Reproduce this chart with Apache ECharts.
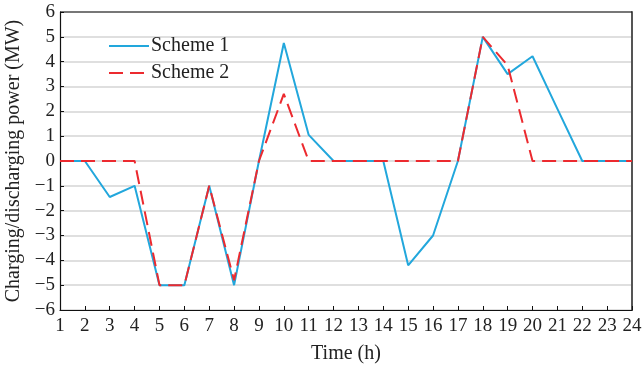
<!DOCTYPE html>
<html>
<head>
<meta charset="utf-8">
<script src="https://cdn.jsdelivr.net/npm/echarts@6/dist/echarts.min.js"></script>
<style>
  html, body { margin: 0; padding: 0; background: #fff; }
  #chart { width: 642px; height: 366px; }
</style>
</head>
<body>
<div id="chart"></div>
<script>
// Hours of the day
const hours = [1, 2, 3, 4, 5, 6, 7, 8, 9, 10, 11, 12, 13, 14, 15, 16, 17, 18, 19, 20, 21, 22, 23, 24];
// Charging/discharging power (MW) for each scheme
const scheme1 = [0, 0, -1.45, -1, -5, -5, -1, -5, 0, 4.75, 1.05, 0, 0, 0, -4.2, -3, 0, 5, 3.5, 4.22, 2.1, 0, 0, 0];
const scheme2 = [0, 0, 0, 0, -5, -5, -1, -4.8, 0, 2.7, 0, 0, 0, 0, 0, 0, 0, 5, 3.85, 0, 0, 0, 0, 0];
const seriesNames = ['Scheme 1', 'Scheme 2'];

const serif = 'Liberation Serif';
const chart = echarts.init(document.getElementById('chart'));

chart.setOption({
  animation: false,
  grid: { left: 60, top: 12, right: 10, bottom: 56, containLabel: false, outerBoundsMode: 'none' },
  legend: {
    orient: 'vertical',
    left: 103,
    top: 31,
    itemWidth: 40,
    itemHeight: 10,
    itemGap: 7,
    itemStyle: { opacity: 0 },
    textStyle: { fontFamily: serif, fontSize: 20, color: '#222', padding: [0, 0, 0, -3] },
    data: seriesNames
  },
  xAxis: {
    type: 'value',
    min: 1,
    max: 24,
    interval: 1,
    name: 'Time (h)',
    nameLocation: 'middle',
    nameGap: 34,
    nameTextStyle: { fontFamily: serif, fontSize: 20, color: '#222' },
    axisLine: { onZero: false, lineStyle: { color: '#111', width: 1.2 } },
    axisTick: { inside: true, length: 4, lineStyle: { color: '#111' } },
    axisLabel: { fontFamily: serif, fontSize: 19, color: '#222', margin: 7 },
    splitLine: { show: false }
  },
  yAxis: [{
    type: 'value',
    min: -6,
    max: 6,
    interval: 1,
    name: 'Charging/discharging power (MW)',
    nameLocation: 'middle',
    nameGap: 30,
    nameTextStyle: { fontFamily: serif, fontSize: 20, color: '#222' },
    axisLine: { show: true, onZero: false, lineStyle: { color: '#111', width: 1.2 } },
    axisTick: { show: true, inside: true, length: 4, lineStyle: { color: '#111' } },
    axisLabel: {
      fontFamily: serif, fontSize: 19, color: '#222', margin: 5,
      formatter: v => String(v).replace('-', '\u2212')
    },
    splitLine: { show: true, lineStyle: { color: '#d4d4d4', width: 1.5 } }
  }, {
    type: 'value',
    min: -6,
    max: 6,
    position: 'right',
    axisLine: { show: true, onZero: false, lineStyle: { color: '#555', width: 2 } },
    axisTick: { show: false },
    axisLabel: { show: false },
    splitLine: { show: false }
  }],
  graphic: [{
    // top frame edge of the plot area
    type: 'line',
    shape: { x1: 60, y1: 12, x2: 632, y2: 12 },
    style: { stroke: '#111', lineWidth: 1.2 },
    z: 10
  }],
  series: [{
    name: seriesNames[0],
    type: 'line',
    data: hours.map((h, i) => [h, scheme1[i]]),
    symbol: 'none',
    lineStyle: { color: '#22a7dc', width: 2 },
    itemStyle: { color: '#22a7dc' },
    z: 2
  }, {
    name: seriesNames[1],
    type: 'line',
    data: hours.map((h, i) => [h, scheme2[i]]),
    symbol: 'none',
    lineStyle: { color: '#ec2a2f', width: 2, type: [14, 7] },
    itemStyle: { color: '#ec2a2f' },
    z: 3
  }]
});
</script>
</body>
</html>
